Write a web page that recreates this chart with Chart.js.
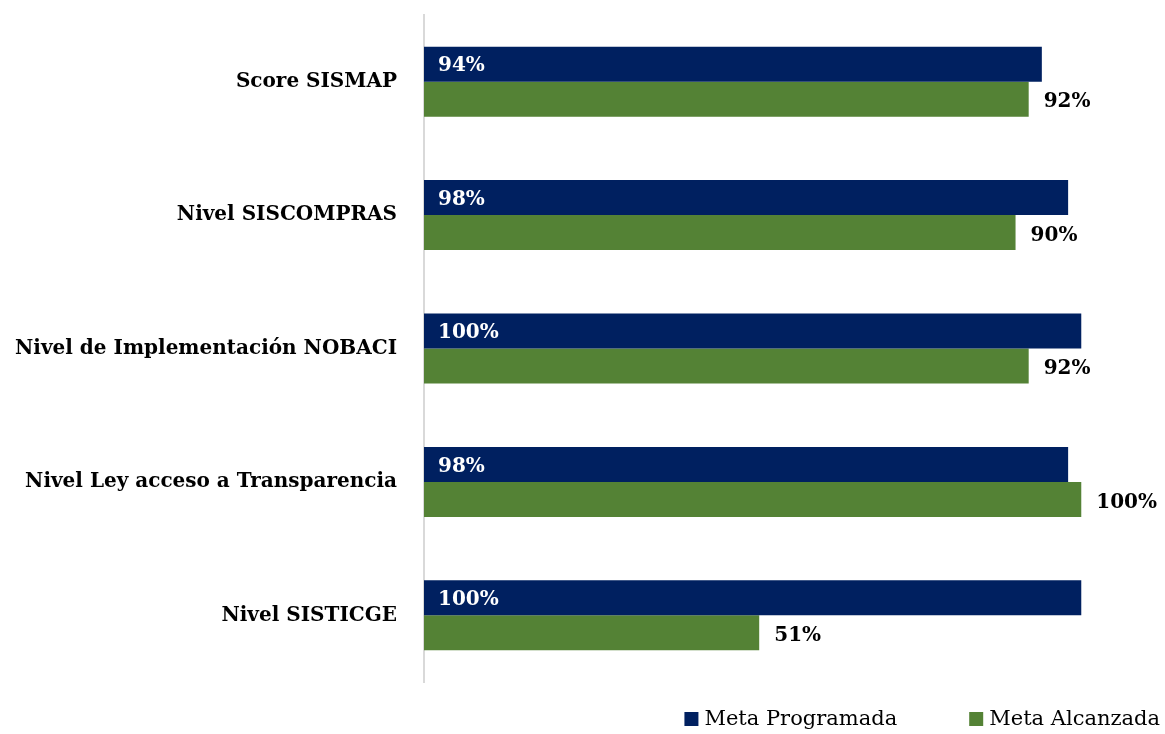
<!DOCTYPE html>
<html>
<head>
<meta charset="utf-8">
<script src="https://cdn.jsdelivr.net/npm/chart.js@4"></script>
<style>
  html, body { margin: 0; padding: 0; background: #ffffff; }
  #wrap { width: 1165px; height: 734px; position: relative; }
</style>
</head>
<body>
<div id="wrap"><canvas id="myChart"></canvas></div>
<script>
let categories = ['Score SISMAP', 'Nivel SISCOMPRAS', 'Nivel de Implementación NOBACI', 'Nivel Ley acceso a Transparencia', 'Nivel SISTICGE'];
let metaProgramada = [0.94, 0.98, 1.00, 0.98, 1.00];
let metaAlcanzada = [0.92, 0.90, 0.92, 1.00, 0.51];

const serif = "'DejaVu Serif', 'Liberation Serif', serif";

// percentage labels: blue ones inside at base, green ones after the bar end
const barLabels = {
  id: 'barLabels',
  afterDatasetsDraw(chart) {
    let ctx = chart.ctx;
    ctx.save();
    ctx.font = 'bold 20px ' + serif;
    ctx.textBaseline = 'middle';
    ctx.textAlign = 'left';
    chart.data.datasets.forEach((ds, i) => {
      let meta = chart.getDatasetMeta(i);
      meta.data.forEach((bar, j) => {
        let txt = Math.round(ds.data[j] * 100) + '%';
        if (i === 0) {
          ctx.fillStyle = '#ffffff';
          ctx.fillText(txt, bar.base + 14, bar.y + 2);
        } else {
          ctx.fillStyle = '#000000';
          ctx.fillText(txt, bar.x + 15, bar.y + 3);
        }
      });
    });
    ctx.restore();
  }
};

// legend at bottom right, drawn by hand so the spacing stays tight
const bottomLegend = {
  id: 'bottomLegend',
  afterDraw(chart) {
    let ctx = chart.ctx;
    ctx.save();
    ctx.font = '21px ' + serif;
    ctx.textBaseline = 'middle';
    ctx.textAlign = 'left';
    let items = chart.data.datasets.map(ds => ({ text: ds.label, color: ds.backgroundColor }));
    let gap = 72, box = 14, boxGap = 6;
    let total = 0;
    items.forEach((it, k) => {
      it.w = ctx.measureText(it.text).width;
      total += box + boxGap + it.w + (k > 0 ? gap : 0);
    });
    let x = chart.width - 5 - total;
    let y = 719;
    items.forEach(it => {
      ctx.fillStyle = it.color;
      ctx.fillRect(x, y - 7, box, box);
      ctx.fillStyle = '#000000';
      ctx.fillText(it.text, x + box + boxGap, y + 1);
      x += box + boxGap + it.w + gap;
    });
    ctx.restore();
  }
};

let ctx = document.getElementById('myChart');
let myChart = new Chart(ctx, {
  type: 'bar',
  data: {
    labels: categories,
    datasets: [
      {
        label: 'Meta Programada',
        data: metaProgramada,
        backgroundColor: '#002060',
        categoryPercentage: 0.525,
        barPercentage: 1.0
      },
      {
        label: 'Meta Alcanzada',
        data: metaAlcanzada,
        backgroundColor: '#548235',
        categoryPercentage: 0.525,
        barPercentage: 1.0
      }
    ]
  },
  options: {
    indexAxis: 'y',
    responsive: true,
    maintainAspectRatio: false,
    animation: false,
    layout: { padding: { top: 15, right: 18, left: 12, bottom: 52 } },
    scales: {
      x: {
        display: false,
        min: 0,
        max: 1.1
      },
      y: {
        grid: { display: false, drawTicks: false },
        border: { display: true, color: '#d9d9d9', width: 2 },
        ticks: {
          color: '#000000',
          padding: 27,
          font: { family: serif, size: 20, weight: 'bold' }
        },
        afterFit(scale) {
          scale.width = 412;
          scale.paddingTop = 0;
          scale.paddingBottom = 0;
        }
      }
    },
    plugins: {
      tooltip: { enabled: false },
      legend: { display: false }
    }
  },
  plugins: [barLabels, bottomLegend]
});
</script>
</body>
</html>
